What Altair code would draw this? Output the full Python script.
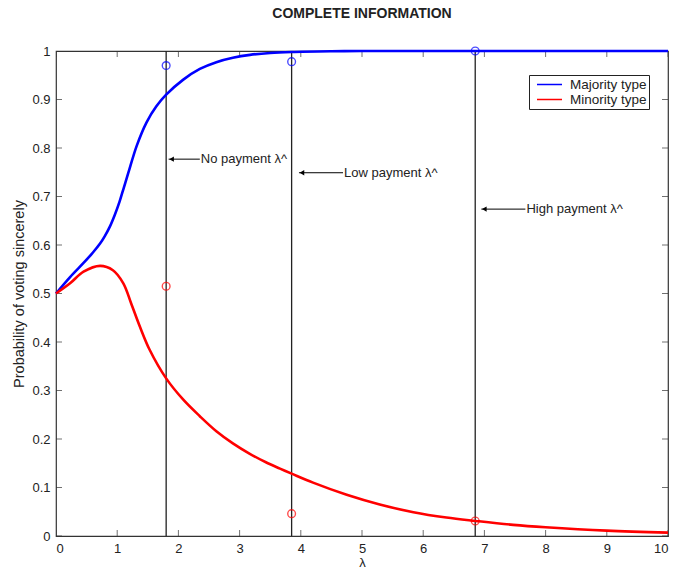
import altair as alt
import pandas as pd

# Probability of voting sincerely against lambda
lam_major = [0.0, 0.23, 0.45, 0.60, 0.72, 0.80, 0.88, 0.96, 1.04, 1.11, 1.18, 1.32, 1.48,
             1.64, 1.80, 2.08, 2.35, 2.62, 2.89, 3.17, 3.50, 3.85, 4.50, 5.0, 6.0, 7.0,
             8.0, 9.0, 10.0]
p_major = [0.500, 0.534, 0.563, 0.584, 0.603, 0.619, 0.638, 0.662, 0.690, 0.719, 0.748,
           0.805, 0.853, 0.886, 0.910, 0.941, 0.963, 0.977, 0.986, 0.992, 0.996, 0.998,
           0.9995, 1.0, 1.0, 1.0, 1.0, 1.0, 1.0]

lam_minor = [0.0, 0.23, 0.45, 0.72, 0.93, 1.10, 1.23, 1.37, 1.53, 1.80, 2.08, 2.35, 2.62,
             2.89, 3.16, 3.43, 3.66, 3.86, 4.20, 4.75, 5.29, 5.84, 6.38, 6.86, 7.47, 8.0,
             9.0, 10.0]
p_minor = [0.500, 0.521, 0.545, 0.557, 0.548, 0.521, 0.479, 0.432, 0.384, 0.325, 0.281,
           0.247, 0.216, 0.191, 0.170, 0.152, 0.139, 0.128, 0.110, 0.085, 0.065, 0.049,
           0.038, 0.031, 0.023, 0.018, 0.011, 0.007]

series_names = ["Majority type", "Minority type"]
series_colors = ["#0000ff", "#ff0000"]

# Threshold lambdas and the equilibrium points marked on them
threshold_lam = [1.8, 3.85, 6.85]
marker_major = [0.970, 0.978, 1.0]
marker_minor = [0.515, 0.046, 0.031]

# Arrow annotations
note_labels = ["No payment λ^", "Low payment λ^", "High payment λ^"]
note_y = [0.777, 0.749, 0.674]
note_tip = [1.84, 3.97, 6.95]
note_tail = [2.35, 4.69, 7.67]

x_ticks = list(range(0, 11))
y_ticks = [i / 10 for i in range(11)]

W, H = 612, 485
FONT = "Liberation Sans"
INK = "#333333"
TXT = "#222222"

curve_df = pd.concat([
    pd.DataFrame({"lam": lam_major, "p": p_major, "series": series_names[0]}),
    pd.DataFrame({"lam": lam_minor, "p": p_minor, "series": series_names[1]}),
])
marker_df = pd.concat([
    pd.DataFrame({"lam": threshold_lam, "p": marker_major, "series": series_names[0]}),
    pd.DataFrame({"lam": threshold_lam, "p": marker_minor, "series": series_names[1]}),
])
vline_df = pd.DataFrame({"lam": threshold_lam, "p": 0.0, "p_top": 1.0})
note_df = pd.DataFrame({"label": note_labels, "p": note_y, "lam": note_tip, "tail": note_tail})
text_df = pd.DataFrame({"label": note_labels, "p": note_y, "lam": note_tail})

# Inward tick marks on all four sides of the frame
xtick_df = pd.DataFrame({"lam": x_ticks * 2, "p": [0.0] * len(x_ticks) + [1.0] * len(x_ticks)})
ytick_df = pd.DataFrame({"p": y_ticks * 2, "lam": [0.0] * len(y_ticks) + [10.0] * len(y_ticks)})

xs = alt.Scale(domain=[0, 10], nice=False, zero=False)
ys = alt.Scale(domain=[0, 1], nice=False, zero=False)

# One shared axis definition per channel, repeated in every layer so they merge
x_axis = alt.Axis(orient="bottom", values=x_ticks, domain=False, ticks=False, grid=False,
                  labelPadding=6, labelFontSize=13, labelColor=TXT, title="λ", titlePadding=1,
                  titleFontSize=13, titleFontWeight="normal", titleColor=TXT)
y_axis = alt.Axis(orient="left", values=y_ticks, format="~g", domain=False, ticks=False,
                  grid=False, labelPadding=6, labelFontSize=13, labelColor=TXT,
                  title="Probability of voting sincerely", titlePadding=5, titleFontSize=14.5,
                  titleFontWeight="normal", titleColor=TXT)
X = alt.X("lam:Q", scale=xs, axis=x_axis)
Y = alt.Y("p:Q", scale=ys, axis=y_axis)

curves = alt.Chart(curve_df).mark_line(strokeWidth=2.6, interpolate="catmull-rom").encode(
    x=X, y=Y,
    color=alt.Color("series:N", scale=alt.Scale(domain=series_names, range=series_colors),
                    legend=alt.Legend(
                        title=None, orient="none", legendX=473, legendY=24,
                        symbolType="stroke", symbolSize=625, symbolStrokeWidth=1.5,
                        symbolOffset=5, clipHeight=15, rowPadding=0, padding=2,
                        labelOffset=7, labelFontSize=13.5, labelColor=TXT,
                        strokeColor=TXT, fillColor="white")),
)

xticks = alt.Chart(xtick_df).mark_tick(orient="vertical", size=12, thickness=1,
                                       color=INK, clip=True).encode(x=X, y=Y)
yticks = alt.Chart(ytick_df).mark_tick(orient="horizontal", size=12, thickness=1,
                                       color=INK, clip=True).encode(x=X, y=Y)

vlines = alt.Chart(vline_df).mark_rule(color=TXT, strokeWidth=1.3).encode(
    x=X, y=Y, y2="p_top:Q",
)

markers = alt.Chart(marker_df).mark_point(shape="circle", filled=False, size=60, strokeWidth=1.4).encode(
    x=X, y=Y,
    stroke=alt.Stroke("series:N", scale=alt.Scale(domain=series_names, range=series_colors), legend=None),
)

arrow_shaft = alt.Chart(note_df).mark_rule(color="black", strokeWidth=1).encode(
    x=X, x2="tail:Q", y=Y,
)
arrow_head = alt.Chart(note_df).mark_point(shape="triangle-left", filled=True, size=28,
                                           color="black", opacity=1, xOffset=3).encode(x=X, y=Y)
arrow_text = alt.Chart(text_df).mark_text(align="left", baseline="middle", dx=1,
                                          fontSize=13, color=TXT, font=FONT).encode(
    x=X, y=Y, text="label:N",
)

chart = alt.layer(
    xticks, yticks, vlines, curves, markers, arrow_shaft, arrow_head, arrow_text,
).properties(
    width=W, height=H,
    title=alt.TitleParams("COMPLETE INFORMATION", fontSize=14, fontWeight="bold",
                          font=FONT, color=TXT, anchor="middle", offset=23),
    autosize=alt.AutoSizeParams(type="none"),
    padding={"left": 56, "top": 51, "right": 5, "bottom": 33},
).configure(
    font=FONT,
).configure_view(
    stroke=INK, strokeWidth=1.2,
)

chart.save("out.html", embed_options={"renderer": "svg", "actions": False})
